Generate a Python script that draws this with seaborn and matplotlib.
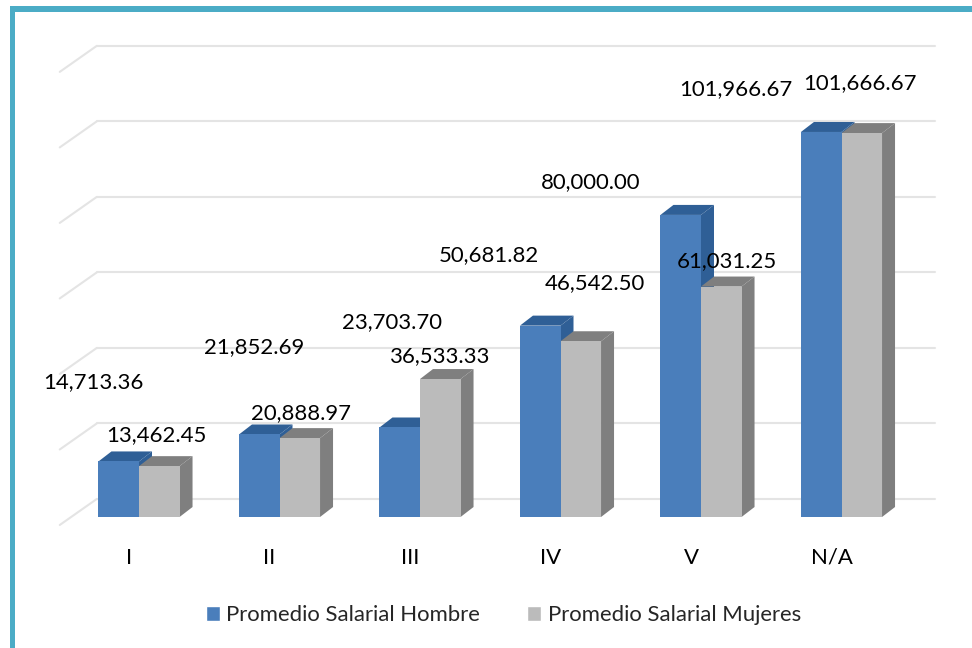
import matplotlib
matplotlib.use("Agg")
import matplotlib.pyplot as plt
import pandas as pd
import seaborn as sns
from matplotlib.patches import Polygon, Rectangle

categories = ["I", "II", "III", "IV", "V", "N/A"]
hombres = [14713.36, 21852.69, 23703.70, 50681.82, 80000.00, 101966.67]
mujeres = [13462.45, 20888.97, 36533.33, 46542.50, 61031.25, 101666.67]
series_names = ["Promedio Salarial Hombre", "Promedio Salarial Mujeres"]
grid_values = [0, 20000, 40000, 60000, 80000, 100000, 120000]

# label offsets from the bar top, in pixels
hombre_dx = [-25, -5.5, -8, -51, -90, -85]
hombre_dy = [79, 87.5, 105.5, 70.6, 33, 43]
mujer_dx = [-2.5, 1, 0, 14.5, 5.5, -1.5]
mujer_dy = [31, 25, 23, 58, 25.5, 50]

blue = "#4A7EBB"
blue_dark = "#2F5F96"
grey = "#BBBBBB"
grey_dark = "#7F7F7F"

W, H = 972, 648
px_x = 140.5
px_y = 0.003776
font_size = 15.9

sns.set_style("white")
plt.rcParams["font.family"] = ["Lato", "DejaVu Sans"]

df = pd.DataFrame({"cat": categories, series_names[0]: hombres, series_names[1]: mujeres})
df = df.melt(id_vars="cat", var_name="serie", value_name="salario")

fig = plt.figure(figsize=(W / 100, H / 100), dpi=100)
ax = fig.add_axes([68.75 / W, (H - 517) / H, 843 / W, (120000 * px_y) / H])

sns.barplot(data=df, x="cat", y="salario", hue="serie", palette=[blue, grey],
            width=0.577, gap=0, saturation=1, errorbar=None, ax=ax, zorder=3)
ax.set_xlim(-0.5, 5.5)
ax.set_ylim(0, 120000)


def x_off(p):
    return p / px_x


def y_off(p):
    return p / px_y


# back wall grid, set back from the bar fronts
for v in grid_values:
    back = v + y_off(18)
    ax.plot([-0.5 + x_off(28), 5.5 + x_off(23)], [back, back], color="#E4E4E4", lw=1.5,
            zorder=1, clip_on=False)
    ax.plot([-0.5 + x_off(28), -0.5 - x_off(9)], [back, back - y_off(26)], color="#E4E4E4", lw=1.5,
            zorder=1, clip_on=False)

depth_x = x_off(13)
depth_y = y_off(10)
shades = [blue_dark, grey_dark]
for k, cont in enumerate(ax.containers):
    for bar in cont:
        x0 = bar.get_x()
        x1 = x0 + bar.get_width()
        top = bar.get_height()
        bar.set_zorder(3 + 2 * k)
        bar.set_edgecolor("none")
        side = Polygon([(x1, 0), (x1 + depth_x, depth_y), (x1 + depth_x, top + depth_y), (x1, top)],
                       closed=True, fc=shades[k], ec="none", zorder=2 + 2 * k, clip_on=False)
        cap = Polygon([(x0, top), (x0 + depth_x, top + depth_y), (x1 + depth_x, top + depth_y), (x1, top)],
                      closed=True, fc=shades[k], ec="none", zorder=2 + 2 * k, clip_on=False)
        ax.add_patch(side)
        ax.add_patch(cap)

# data labels
for cont, vals, dxs, dys in zip(ax.containers, [hombres, mujeres], [hombre_dx, mujer_dx], [hombre_dy, mujer_dy]):
    for bar, v, dx, dy in zip(cont, vals, dxs, dys):
        ax.annotate(f"{v:,.2f}", (bar.get_x() + bar.get_width() / 2, bar.get_height()),
                    xytext=(dx * 0.72, dy * 0.72), textcoords="offset points",
                    ha="center", va="center", fontsize=font_size, color="black", zorder=10)

ax.set_xticks([i - x_off(10) for i in range(len(categories))], categories)
ax.set_yticks([])
ax.tick_params(axis="x", length=0, pad=22, labelsize=font_size, colors="black")
ax.set(xlabel=None, ylabel=None)
sns.despine(ax=ax, left=True, bottom=True)
ax.patch.set_alpha(0)

handles = ax.get_legend().legend_handles
ax.legend(handles, series_names, loc="center", bbox_to_anchor=(503.5 / W, (H - 615) / H),
          bbox_transform=fig.transFigure, ncol=2, frameon=False, fontsize=font_size,
          handlelength=0.64, handleheight=0.64, handletextpad=0.3, columnspacing=2.13,
          borderpad=0, borderaxespad=0)

# teal frame
fig.add_artist(Rectangle((10 / W, 0), 5 / W, (H - 6) / H, transform=fig.transFigure, fc="#4BACC6", ec="none"))
fig.add_artist(Rectangle((10 / W, (H - 12) / H), (W - 10) / W, 6 / H, transform=fig.transFigure, fc="#4BACC6", ec="none"))

fig.savefig("out.png", dpi=100)
